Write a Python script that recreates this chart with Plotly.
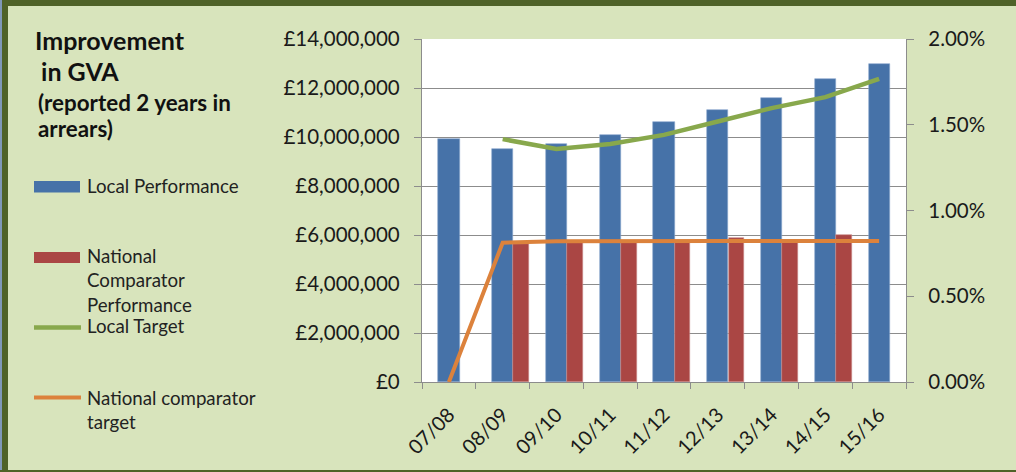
import plotly.graph_objects as go

# ---- data ----
years = ["07/08", "08/09", "09/10", "10/11", "11/12", "12/13", "13/14", "14/15", "15/16"]
local_performance = [9900000, 9500000, 9700000, 10100000, 10600000, 11100000, 11600000, 12350000, 13000000]
national_performance = [None, 5650000, 5750000, 5750000, 5750000, 5870000, 5750000, 6000000, None]
local_target = [None, 0.01416, 0.01359, 0.01388, 0.01441, 0.01519, 0.01597, 0.01661, 0.01768]
national_target = [0.0, 0.00812, 0.00820, 0.00822, 0.00822, 0.00822, 0.00822, 0.00822, 0.00822]

title_lines = ["Improvement", " in GVA", "(reported 2 years in", "arrears)"]
legend_names = ["Local Performance", "National<br>Comparator<br>Performance", "Local Target",
                "National comparator<br>target"]

# ---- style ----
BLUE = "#4672A8"
RED = "#AA4644"
GREEN = "#88A84C"
ORANGE = "#DC823C"
BG = "#D8E4BC"
BORDER = "#4F6228"
GRID = "#8C8C8C"
FONT = "Lato"
W, H = 1016, 472
L, R, T, B = 422, 906, 39, 382


def px(x):
    return (x - L) / (R - L)


def py(y):
    return (B - y) / (B - T)


fig = go.Figure()
fig.add_trace(go.Bar(x=years, y=local_performance, name="Local Performance",
                     marker=dict(color=BLUE, line=dict(width=0.6, color="#8AA6CC")),
                     offset=-0.197, width=0.395, showlegend=False))
fig.add_trace(go.Bar(x=years, y=national_performance, name="National Comparator Performance",
                     marker=dict(color=RED, line=dict(width=0.6, color="#C98A88")),
                     offset=0.2, width=0.29, showlegend=False))
fig.add_trace(go.Scatter(x=years, y=local_target, name="Local Target", yaxis="y2",
                         mode="lines", line=dict(color=GREEN, width=4.5), showlegend=False))
fig.add_trace(go.Scatter(x=years, y=national_target, name="National comparator target", yaxis="y2",
                         mode="lines", line=dict(color=ORANGE, width=4), showlegend=False))

shapes = [
    # frame border
    dict(type="rect", xref="paper", yref="paper", x0=px(-5), x1=px(W + 10), y0=py(6), y1=py(-10),
         fillcolor=BORDER, line=dict(width=0), layer="above"),
    dict(type="rect", xref="paper", yref="paper", x0=px(2), x1=px(8), y0=py(W), y1=py(-10),
         fillcolor=BORDER, line=dict(width=0), layer="above"),
    dict(type="rect", xref="paper", yref="paper", x0=px(-5), x1=px(2), y0=py(W), y1=py(-10),
         fillcolor="#7F97B8", line=dict(width=0), layer="above"),
    dict(type="rect", xref="paper", yref="paper", x0=px(0), x1=px(W + 10), y0=py(480), y1=py(470),
         fillcolor=BORDER, line=dict(width=0), layer="above"),
    # legend swatches
    dict(type="rect", xref="paper", yref="paper", x0=px(34), x1=px(80), y0=py(192.5), y1=py(181),
         fillcolor=BLUE, line=dict(width=0)),
    dict(type="rect", xref="paper", yref="paper", x0=px(34), x1=px(80), y0=py(263), y1=py(252),
         fillcolor=RED, line=dict(width=0)),
    dict(type="line", xref="paper", yref="paper", x0=px(34), x1=px(81), y0=py(327.5), y1=py(327.5),
         line=dict(color=GREEN, width=4.5)),
    dict(type="line", xref="paper", yref="paper", x0=px(34), x1=px(81), y0=py(397.5), y1=py(397.5),
         line=dict(color=ORANGE, width=4)),
]

annotations = []
title_pos = [(33, 40, 25), (33, 71, 25), (36, 102, 22.4), (36, 128, 22.4)]
for text, (x, y, s) in zip(title_lines, title_pos):
    annotations.append(dict(text="<b>" + text.replace(" ", "&nbsp;") + "</b>", x=px(x), y=py(y),
                            xref="paper", yref="paper", xanchor="left", yanchor="middle",
                            showarrow=False, font=dict(family=FONT, size=s, color="#111111")))

legend_pos = [(85, 186), (85, 280.5), (85, 326), (85, 409.5)]
for text, (x, y) in zip(legend_names, legend_pos):
    annotations.append(dict(text=text, x=px(x), y=py(y), xref="paper", yref="paper",
                            xanchor="left", yanchor="middle", align="left", showarrow=False,
                            font=dict(family=FONT, size=18.7, color="#222222")))

fig.update_layout(
    width=W, height=H,
    margin=dict(l=L, r=W - R, t=T, b=H - B, pad=0, autoexpand=False),
    paper_bgcolor=BG, plot_bgcolor="white",
    font=dict(family=FONT, size=20.5, color="#1a1a1a"),
    bargap=0, barmode="overlay",
    shapes=shapes, annotations=annotations,
    xaxis=dict(type="category", tickson="boundaries", showgrid=False, ticks="outside",
               ticklen=6, tickcolor=GRID, showline=True, linecolor=GRID, linewidth=1.3,
               tickangle=-45, tickfont=dict(size=20), range=[-0.5, 8.5], mirror=False,
               ticklabelstandoff=12, ticklabelshift=0, automargin=False),
    yaxis=dict(range=[0, 14000000], dtick=2000000, tickprefix="£", tickformat=",d",
               showgrid=True, gridcolor=GRID, gridwidth=1.2, ticks="outside", ticklen=7,
               tickcolor=GRID, showline=True, linecolor=GRID, linewidth=1.3,
               tickfont=dict(size=20.5), ticklabelstandoff=10, zeroline=False, automargin=False),
    yaxis2=dict(range=[0, 0.02], dtick=0.005, tickformat=".2%", overlaying="y", side="right",
                showgrid=False, ticks="outside", ticklen=7, tickcolor=GRID, showline=True,
                linecolor=GRID, linewidth=1.3, tickfont=dict(size=20.5), ticklabelstandoff=10,
                zeroline=False, automargin=False),
    showlegend=False,
)

fig.write_html("out.html", config={"displayModeBar": False},
               post_script="document.body.style.margin='0';")
